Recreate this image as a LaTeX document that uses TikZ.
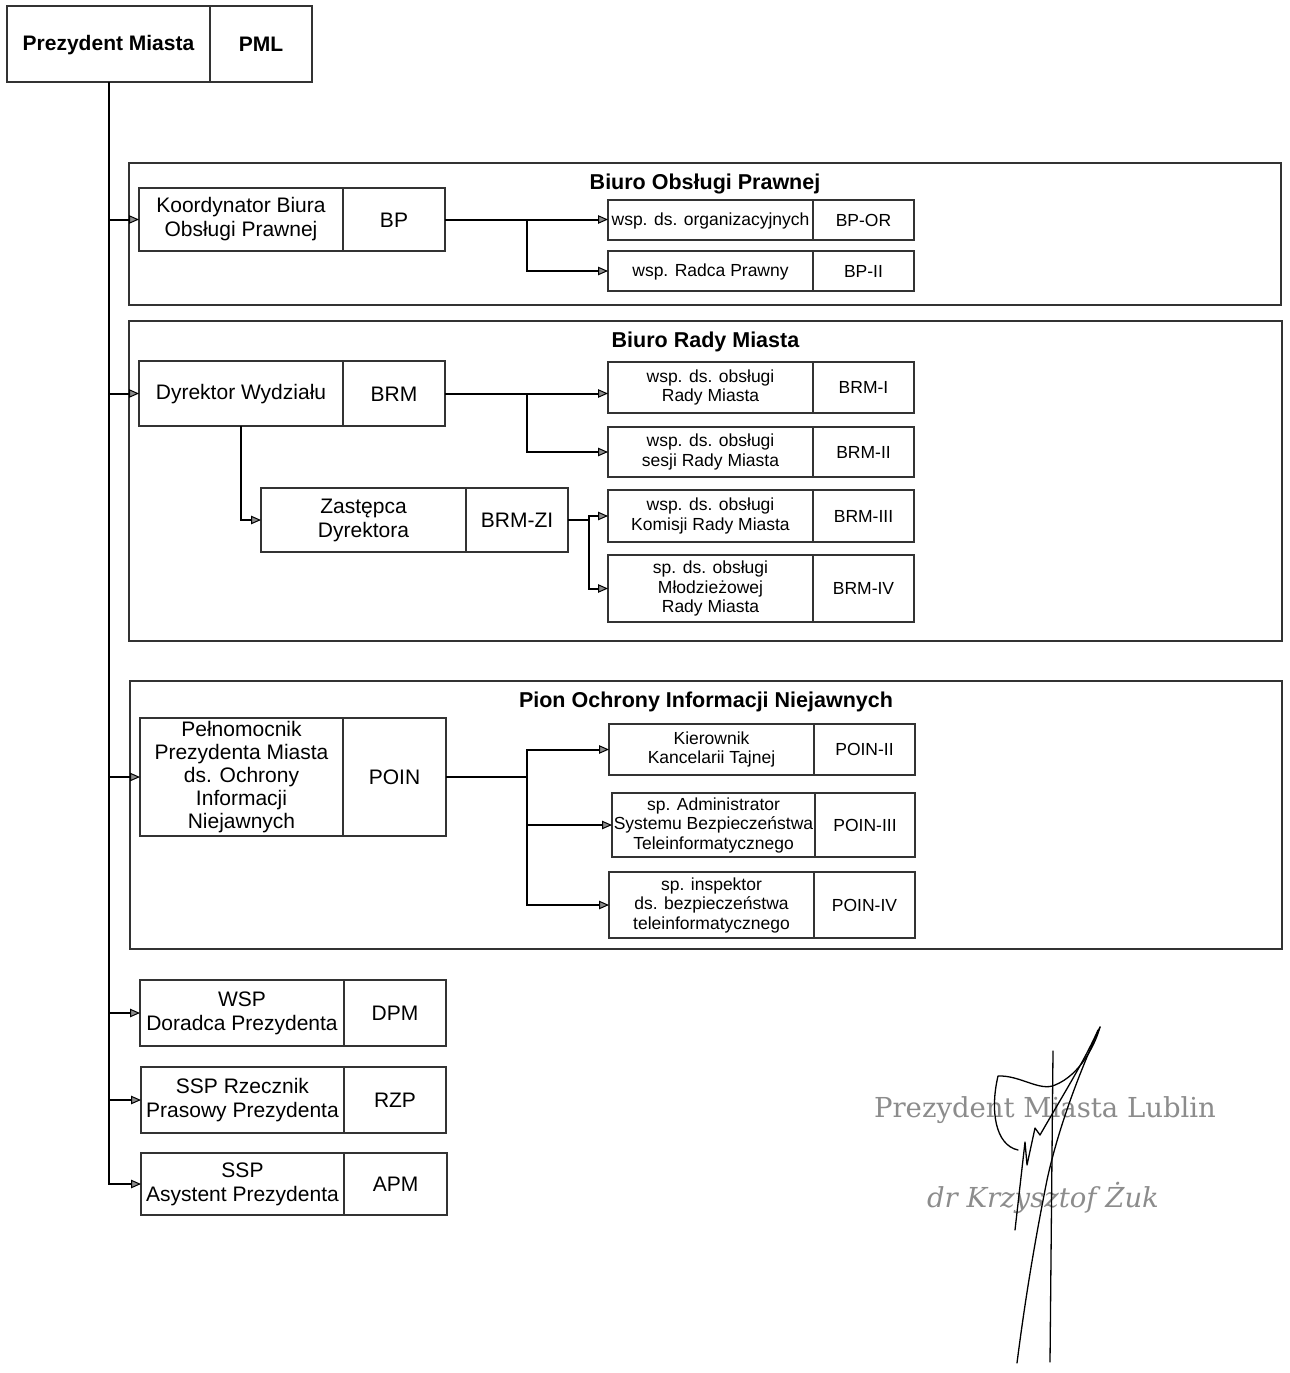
\documentclass[tikz,border=0pt]{standalone}
\usepackage{fontspec}
\setmainfont{Liberation Sans}
\newfontfamily\sigfont{DejaVu Serif}
\usetikzlibrary{arrows.meta}

% invisible strut that centres capital letters in a cell
\newcommand\cellstrut{\rule[-0.1em]{0pt}{0.92em}}

\tikzset{
  cell/.style={draw=black!80, line width=1.1pt, inner sep=0pt, outer sep=0pt,
               align=center, anchor=north west,
               execute at begin node=\cellstrut, execute at end node=\cellstrut},
  bigtext/.style={font=\fontsize{21}{24}\selectfont},
  bigbold/.style={font=\bfseries\fontsize{21}{24}\selectfont},
  tighttext/.style={font=\fontsize{21}{23}\selectfont},
  smalltext/.style={font=\fontsize{17.5}{19.5}\selectfont},
  groupframe/.style={draw=black!80, line width=1.3pt, inner sep=0pt, outer sep=0pt,
                     anchor=north west},
  grouptitle/.style={font=\bfseries\fontsize{21.5}{24}\selectfont},
  conn/.style={line width=2pt, black},
  arr/.style={conn, -{Triangle[length=10pt,width=8.5pt,line width=1pt,fill=black!45]}},
  sigtext/.style={text=black!45, font=\sigfont\fontsize{27.5}{31}\selectfont},
  sigpen/.style={line width=1.3pt, black, line cap=round, line join=round},
}

% two-cell unit: name, x, y, left width, right width, height, text style, left text, right text
\newcommand\unitbox[9]{%
  \node[cell,#7,minimum width=#4pt,minimum height=#6pt] (#1-l) at (#2,#3) {#8};
  \node[cell,#7,minimum width=#5pt,minimum height=#6pt] (#1-r) at (#1-l.north east) {#9};}

\begin{document}
\begin{tikzpicture}[x=1pt,y=-1pt]
\useasboundingbox (0,0) rectangle (1290,1373);

% head of the office
\unitbox{pm}{7}{6}{203}{102}{76}{bigbold}{Prezydent Miasta}{PML}

% Biuro Obsługi Prawnej
\node[groupframe, minimum width=1152pt, minimum height=142pt] (g1) at (129,163) {};
\node[grouptitle] (g1t) at ([yshift=-21pt]g1.north) {Biuro Obsługi Prawnej};
\unitbox{kbp}{139}{188}{204}{102}{63}{bigtext}{Koordynator Biura\\Obsługi Prawnej}{BP}
\unitbox{bpor}{608}{200}{205}{101}{40}{smalltext}{wsp. ds. organizacyjnych}{BP-OR}
\unitbox{bpii}{608}{251}{205}{101}{40}{smalltext}{wsp. Radca Prawny}{BP-II}

% Biuro Rady Miasta
\node[groupframe, minimum width=1153pt, minimum height=320pt] (g2) at (129,321) {};
\node[grouptitle] (g2t) at ([yshift=-21pt]g2.north) {Biuro Rady Miasta};
\unitbox{dw}{139}{361}{204}{102}{65}{bigtext}{Dyrektor Wydziału}{BRM}
\unitbox{brma}{608}{362}{205}{101}{51}{smalltext}{wsp. ds. obsługi\\Rady Miasta}{BRM-I}
\unitbox{brmb}{608}{427}{205}{101}{50}{smalltext}{wsp. ds. obsługi\\sesji Rady Miasta}{BRM-II}
\unitbox{zd}{261}{488}{205}{102}{64}{bigtext}{Zastępca\\Dyrektora}{BRM-ZI}
\unitbox{brmc}{608}{490}{205}{101}{52}{smalltext}{wsp. ds. obsługi\\Komisji Rady Miasta}{BRM-III}
\unitbox{brmd}{608}{555}{205}{101}{67}{smalltext}{sp. ds. obsługi\\Młodzieżowej\\Rady Miasta}{BRM-IV}

% Pion Ochrony Informacji Niejawnych
\node[groupframe, minimum width=1152pt, minimum height=268pt] (g3) at (130,681) {};
\node[grouptitle] (g3t) at ([yshift=-21pt]g3.north) {Pion Ochrony Informacji Niejawnych};
\unitbox{pp}{140}{718}{203}{103}{118}{tighttext}{Pełnomocnik\\Prezydenta Miasta\\ds. Ochrony\\Informacji\\Niejawnych}{POIN}
\unitbox{poa}{609}{724}{205}{101}{51}{smalltext}{Kierownik\\Kancelarii Tajnej}{POIN-II}
\unitbox{pob}{612}{793}{203}{100}{64}{smalltext}{sp. Administrator\\Systemu Bezpieczeństwa\\Teleinformatycznego}{POIN-III}
\unitbox{poc}{609}{872}{205}{101}{66}{smalltext}{sp. inspektor\\ds. bezpieczeństwa\\teleinformatycznego}{POIN-IV}

% stand-alone posts
\unitbox{dp}{140}{980}{204}{102}{66}{bigtext}{WSP\\Doradca Prezydenta}{DPM}
\unitbox{rz}{141}{1067}{203}{102}{66}{bigtext}{SSP Rzecznik\\Prasowy Prezydenta}{RZP}
\unitbox{ap}{141}{1153}{203}{103}{62}{bigtext}{SSP\\Asystent Prezydenta}{APM}

% main trunk
\draw[arr] (pm-l.south) |- (ap-l.west);
\foreach \n in {kbp,dw,pp,dp,rz}
  \draw[arr] (pm-l.south |- \n-l.west) -- (\n-l.west);

% Biuro Obsługi Prawnej links
\path (kbp-r.east) ++(82,0) coordinate (j1);
\draw[arr] (kbp-r.east) -- (kbp-r.east -| bpor-l.west);
\draw[arr] (j1) |- (bpii-l.west);

% Biuro Rady Miasta links
\path (dw-r.east) ++(82,0) coordinate (j2);
\draw[arr] (dw-r.east) -- (dw-r.east -| brma-l.west);
\draw[arr] (j2) |- (brmb-l.west);
\draw[arr] (dw-l.south) |- (zd-l.west);
\path (zd-r.east) ++(21,0) coordinate (j3);
\draw[conn] (zd-r.east) -- (j3);
\draw[arr] (j3) |- (brmc-l.west);
\draw[arr] (j3) |- (brmd-l.west);

% Pion Ochrony links
\path (pp-r.east) ++(81,0) coordinate (j4);
\draw[conn] (pp-r.east) -- (j4);
\draw[arr] (j4) |- (poa-l.west);
\draw[arr] (j4) |- (pob-l.west);
\draw[arr] (j4) |- (poc-l.west);

% stamp and signature
\node[sigtext] (sig1) at (1045,1110) {Prezydent Miasta Lublin};
\node[sigtext] (sig2) at (1043,1198) {\itshape dr Krzysztof Żuk};
\draw[sigpen] (1018,1150) .. controls (995,1145) and (990,1110) .. (998,1076)
  .. controls (1020,1075) and (1040,1092) .. (1055,1085)
  .. controls (1080,1075) and (1095,1045) .. (1100,1027);
\draw[sigpen] (1100,1027) .. controls (1085,1060) and (1060,1120) .. (1047,1180)
  .. controls (1035,1240) and (1025,1300) .. (1017,1363);
\draw[sigpen] (1053,1051) -- (1050,1362);
\draw[sigpen] (1015,1230) -- (1025,1142) -- (1027,1165) -- (1035,1128) -- (1040,1135)
  .. controls (1060,1100) and (1085,1060) .. (1098,1030);
\end{tikzpicture}
\end{document}
